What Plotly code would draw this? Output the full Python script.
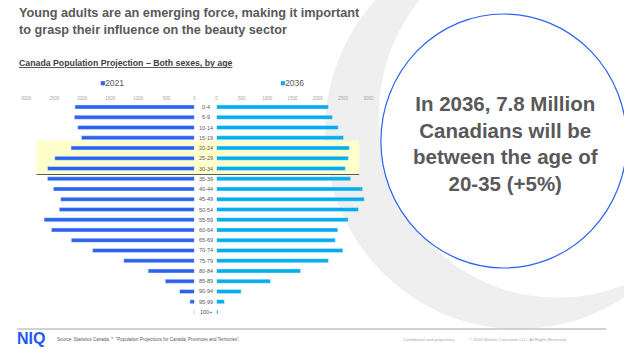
import plotly.graph_objects as go

W, H = 624, 349

ages = ["0-4", "5-9", "10-14", "15-19", "20-24", "25-29", "30-34", "35-39", "40-44",
        "45-49", "50-54", "55-59", "60-64", "65-69", "70-74", "75-79", "80-84",
        "85-89", "90-94", "95-99", "100+"]
pop2021 = [2130, 2140, 2080, 2015, 2200, 2490, 2620, 2620, 2515, 2385, 2410, 2680,
           2550, 2195, 1815, 1260, 825, 520, 265, 80, 10]
pop2036 = [2210, 2290, 2405, 2510, 2625, 2605, 2545, 2650, 2885, 2920, 2805, 2600,
           2395, 2345, 2495, 2210, 1660, 1065, 485, 155, 30]
tick_vals = [0, 500, 1000, 1500, 2000, 2500, 3000]

C2021 = "#2B63F0"
C2036 = "#00AEEF"
FONT = "Liberation Sans, Arial, sans-serif"


def px(x):
    return x / W


def py(y):
    return 1 - y / H


fig = go.Figure()
fig.add_trace(go.Bar(x=pop2021, y=ages, orientation="h", marker_color=C2021,
                     width=0.4, xaxis="x", yaxis="y", showlegend=False))
fig.add_trace(go.Bar(x=pop2036, y=ages, orientation="h", marker_color=C2036,
                     width=0.4, xaxis="x2", yaxis="y2", showlegend=False))

top, bot = 101.9, 317.1
axis_common = dict(showgrid=False, zeroline=False, showline=False, side="top",
                   tickvals=tick_vals, ticks="",
                   tickfont=dict(size=4.5, color="#A6A6A6", family=FONT))
yax_common = dict(type="category", categoryorder="array", categoryarray=ages,
                  range=[20.5, -0.5], showgrid=False, zeroline=False,
                  showticklabels=False, showline=False,
                  domain=[py(bot), py(top)])

shapes = []
# decorative gray ring
shapes.append(dict(type="circle", xref="paper", yref="paper", layer="below",
                   x0=px(325), x1=px(718.2), y0=py(329.1), y1=py(-64),
                   fillcolor="#EFEFEF", line=dict(width=0)))
shapes.append(dict(type="circle", xref="paper", yref="paper", layer="below",
                   x0=px(379.8), x1=px(743.8), y0=py(297.8), y1=py(-66.2),
                   fillcolor="white", line=dict(width=0)))
# highlight
shapes.append(dict(type="rect", xref="paper", yref="paper", layer="below",
                   x0=px(32), x1=px(360), y0=py(174.5), y1=py(140.7),
                   fillcolor="#FFFFCC", line=dict(width=0)))
shapes.append(dict(type="line", xref="paper", yref="paper",
                   x0=px(32), x1=px(360), y0=py(174.5), y1=py(174.5),
                   line=dict(color="#595959", width=1)))
# blue circle
shapes.append(dict(type="circle", xref="paper", yref="paper",
                   x0=px(382), x1=px(632), y0=py(268), y1=py(14),
                   fillcolor="white", line=dict(color="#2B63F0", width=1.2)))
# footer line
shapes.append(dict(type="line", xref="paper", yref="paper",
                   x0=px(12), x1=px(611), y0=py(329), y1=py(329),
                   line=dict(color="#A6A6A6", width=1)))

ann = []
ann.append(dict(x=px(12), y=py(21.5), xref="paper", yref="paper", xanchor="left",
                yanchor="middle", showarrow=False, align="left",
                text="<b>Young adults are an emerging force, making it important<br>to grasp their influence on the beauty sector</b>",
                font=dict(size=12.7, color="#595959", family=FONT)))
ann.append(dict(x=px(12), y=py(63.5), xref="paper", yref="paper", xanchor="left",
                yanchor="middle", showarrow=False,
                text="<b><u>Canada Population Projection – Both sexes, by age</u></b>",
                font=dict(size=8.75, color="#404040", family=FONT)))
ann.append(dict(x=px(95), y=py(83), xref="paper", yref="paper", xanchor="left",
                yanchor="middle", showarrow=False,
                text=f'<span style="color:{C2021}">■</span>2021',
                font=dict(size=8.5, color="#595959", family=FONT)))
ann.append(dict(x=px(277), y=py(83), xref="paper", yref="paper", xanchor="left",
                yanchor="middle", showarrow=False,
                text=f'<span style="color:{C2036}">■</span>2036',
                font=dict(size=8.5, color="#595959", family=FONT)))
for a in ages:
    ann.append(dict(x=px(204), y=a, xref="paper", yref="y", xanchor="center",
                    yanchor="middle", showarrow=False, text=a,
                    font=dict(size=5.5, color="#595959", family=FONT)))
ann.append(dict(x=px(509), y=py(143.5), xref="paper", yref="paper", xanchor="center",
                yanchor="middle", showarrow=False, align="center",
                text="<b>In 2036, 7.8 Million<br>Canadians will be<br>between the age of<br>20-35 (+5%)</b>",
                font=dict(size=20.5, color="#595959", family=FONT)))
ann.append(dict(x=px(11), y=py(338.5), xref="paper", yref="paper", xanchor="left",
                yanchor="middle", showarrow=False, text="<b>NIQ</b>", borderpad=0,
                font=dict(size=16, color="#1F5AF5", family=FONT)))
ann.append(dict(x=px(51), y=py(339), xref="paper", yref="paper", xanchor="left",
                yanchor="middle", showarrow=False,
                text='Source: Statistics Canada, *  "Population Projections for Canada, Provinces and Territories".',
                font=dict(size=4.5, color="#595959", family=FONT)))
ann.append(dict(x=px(402), y=py(339), xref="paper", yref="paper", xanchor="left",
                yanchor="middle", showarrow=False, text="Confidential and proprietary",
                font=dict(size=4.2, color="#A6A6A6", family=FONT)))
ann.append(dict(x=px(470), y=py(339), xref="paper", yref="paper", xanchor="left",
                yanchor="middle", showarrow=False,
                text="© 2025 Nielsen Consumer LLC. All Rights Reserved.",
                font=dict(size=4.2, color="#A6A6A6", family=FONT)))

fig.update_layout(
    width=W, height=H, margin=dict(l=0, r=0, t=0, b=0),
    paper_bgcolor="white", plot_bgcolor="rgba(0,0,0,0)",
    showlegend=False, barmode="overlay",
    xaxis=dict(domain=[px(21.5), px(192.5)], range=[3000, 0], anchor="y", **axis_common),
    xaxis2=dict(domain=[px(215), px(369.3)], range=[0, 3000], anchor="y2", **axis_common),
    yaxis=dict(anchor="x", **yax_common),
    yaxis2=dict(anchor="x2", matches="y", **yax_common),
    shapes=shapes, annotations=ann,
)

fig.write_html("out.html")
